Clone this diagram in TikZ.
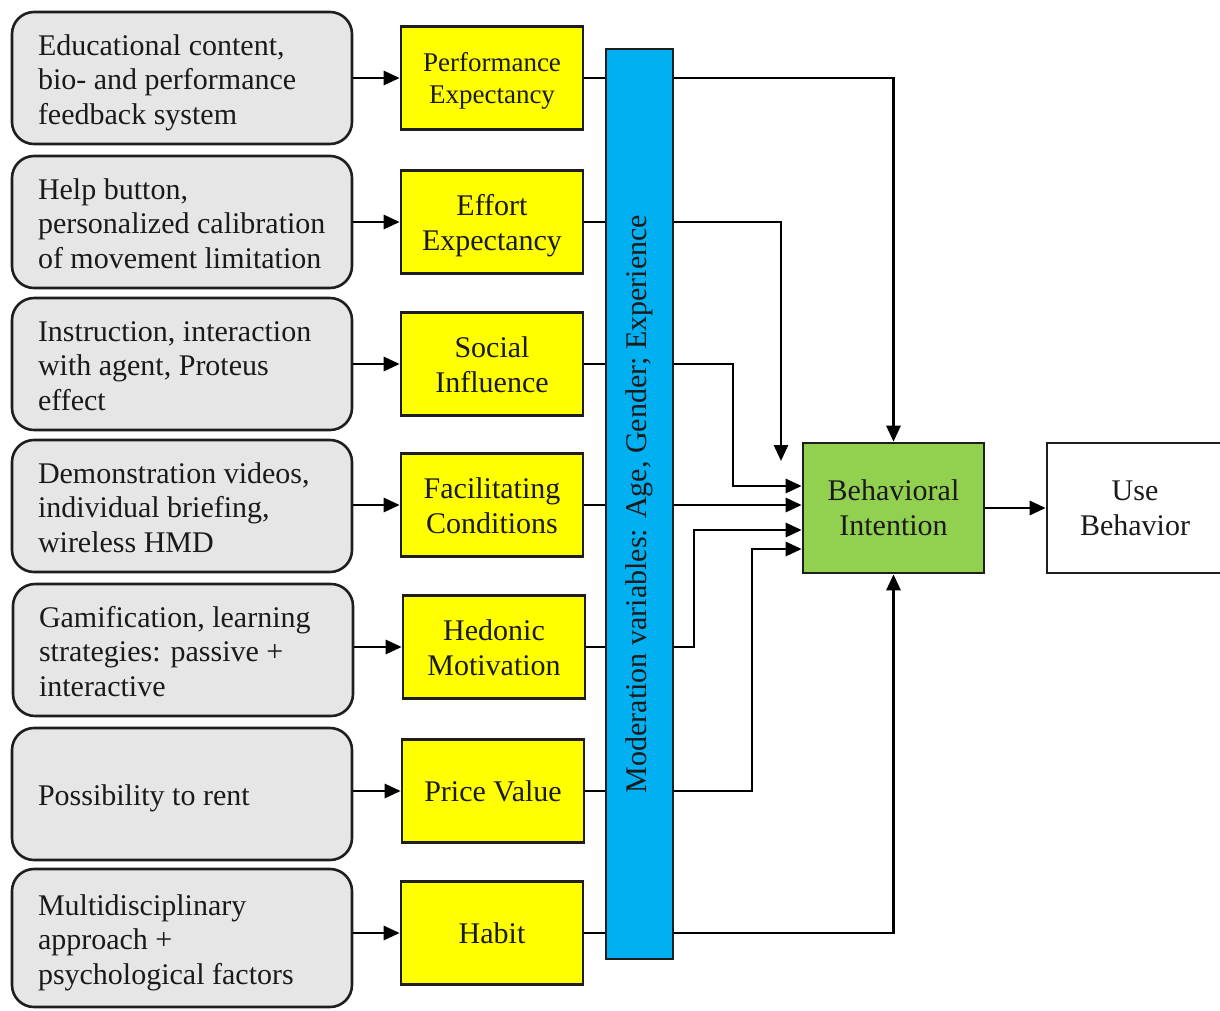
\documentclass[tikz,border=0pt]{standalone}
\usepackage{fontspec}
\setmainfont{Liberation Serif}
\usetikzlibrary{arrows.meta}
\definecolor{boxgray}{HTML}{E7E6E6}
\definecolor{boxyellow}{HTML}{FFFF00}
\definecolor{barblue}{HTML}{00B0F0}
\definecolor{bigreen}{HTML}{92D050}
\definecolor{edgecol}{HTML}{1E1E1E}
\definecolor{txtcol}{HTML}{1A1A1A}
\newcommand{\lefttext}[1]{\raisebox{-5pt}[\height][\depth]{\makebox[288pt][l]{\begin{tabular}{@{}l@{}}#1\end{tabular}}}}
\newcommand{\yeltext}[1]{\raisebox{-3.5pt}[\height][\depth]{\begin{tabular}{@{}c@{}}#1\end{tabular}}}
\tikzset{
  srcbox/.style={draw=edgecol, fill=boxgray, line width=2.6pt, rounded corners=22pt,
    minimum width=340pt, minimum height=132pt, inner sep=0pt, text=txtcol,
    font=\fontsize{30}{34.5}\selectfont},
  factor/.style={draw=edgecol, fill=boxyellow, line width=2.6pt,
    minimum width=182pt, minimum height=103pt, inner sep=0pt, align=center, text=txtcol,
    font=\fontsize{30}{35}\selectfont},
  outbox/.style={draw=edgecol, line width=2.6pt, minimum width=181pt, minimum height=130pt,
    inner sep=0pt, align=center, text=txtcol, font=\fontsize{30}{35}\selectfont},
  arr/.style={draw=black, line width=2.8pt, -{Triangle[length=16pt,width=14pt]}},
}
\begin{document}
\begin{tikzpicture}[x=1pt,y=-1pt]
\useasboundingbox (0,0) rectangle (1220,1010);
% source boxes
\node[srcbox] (s1) at (182,78) {\lefttext{Educational content,\\bio- and performance\\feedback system}};
\node[srcbox] (s2) at (182,222) {\lefttext{Help button,\\personalized calibration\\of movement limitation}};
\node[srcbox] (s3) at (182,364) {\lefttext{Instruction, interaction\\with agent, Proteus\\effect}};
\node[srcbox] (s4) at (182,506) {\lefttext{Demonstration videos,\\individual briefing,\\wireless HMD}};
\node[srcbox] (s5) at (183,650) {\lefttext{Gamification, learning\\strategies: passive +\\interactive}};
\node[srcbox] (s6) at (182,794) {\lefttext{Possibility to rent}};
\node[srcbox, minimum height=138pt] (s7) at (182,938) {\lefttext{Multidisciplinary\\approach +\\psychological factors}};
% factor boxes
\node[factor, font=\fontsize{27}{32}\selectfont] (f1) at (492,78) {\yeltext{Performance\\Expectancy}};
\node[factor] (f2) at (492,222) {\yeltext{Effort\\Expectancy}};
\node[factor] (f3) at (492,364) {\yeltext{Social\\Influence}};
\node[factor] (f4) at (492,505) {\yeltext{Facilitating\\Conditions}};
\node[factor] (f5) at (494,647) {\yeltext{Hedonic\\Motivation}};
\node[factor] (f6) at (493,791) {\yeltext{Price Value}};
\node[factor] (f7) at (492,933) {\yeltext{Habit}};
% outcome boxes
\node[outbox, fill=bigreen] (bi) at (893.5,508) {Behavioral\\Intention};
\node[outbox, fill=white, minimum width=176pt] (ub) at (1135,508) {Use\\Behavior};
% arrows source -> factor
\foreach \i in {1,...,7}{
  \draw[arr] (f\i.west -| s\i.east) -- (f\i.west);
}
% bend points and free ends
\coordinate (eeend) at (781,461);
\coordinate (k3) at (733,486);
\coordinate (k5) at (694,530);
\coordinate (k6) at (752,549);
% factor -> BI
\draw[arr] (f1.east) -| (bi.north);
\draw[arr] (f2.east) -| (eeend);
\draw[arr] (f3.east) -| (k3) -- (k3 -| bi.west);
\draw[arr] (f4.east) -- (f4.east -| bi.west);
\draw[arr] (f5.east) -| (k5) -- (k5 -| bi.west);
\draw[arr] (f6.east) -| (k6) -- (k6 -| bi.west);
\draw[arr] (f7.east) -| (bi.south);
\draw[arr] (bi.east) -- (ub.west);
% moderation bar
\node[draw=edgecol, fill=barblue, line width=2.6pt, rotate=90, minimum width=910pt,
  minimum height=67pt, inner sep=0pt, text=txtcol, font=\fontsize{30}{35}\selectfont]
  (bar) at (639.5,504) {Moderation variables: Age, Gender; Experience};
\end{tikzpicture}
\end{document}
